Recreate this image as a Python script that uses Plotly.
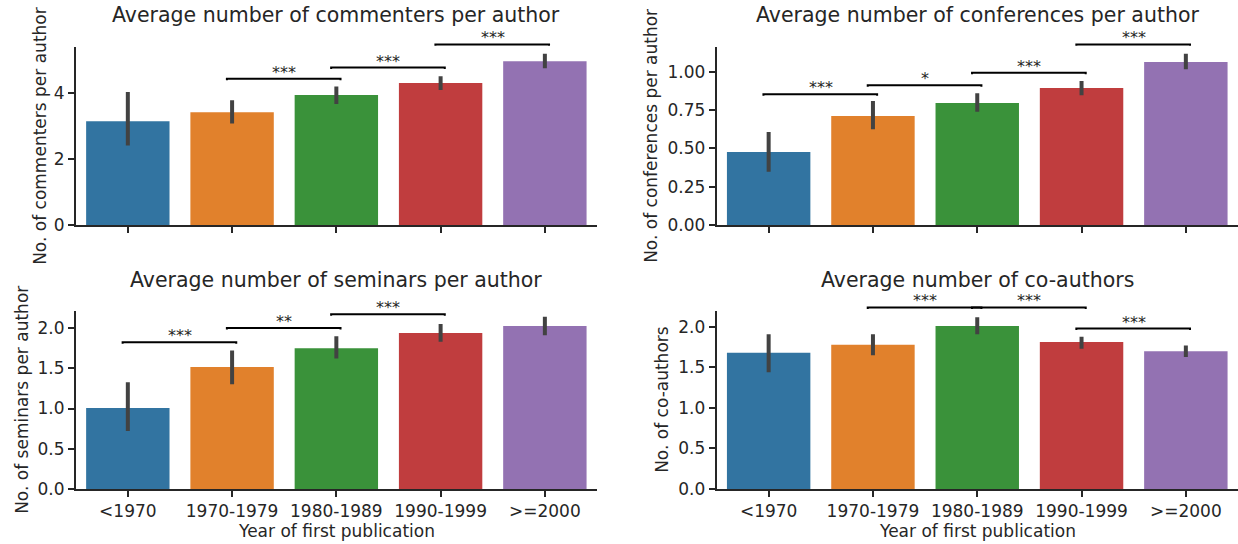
import plotly.graph_objects as go

# ---------------- data ----------------
categories = ["<1970", "1970-1979", "1980-1989", "1990-1999", ">=2000"]
bar_colors = ["#3274a1", "#e1812c", "#3a923a", "#c03d3e", "#9372b2"]

commenters_mean = [3.14, 3.41, 3.93, 4.29, 4.95]
commenters_lo = [2.40, 3.07, 3.66, 4.08, 4.74]
commenters_hi = [4.02, 3.77, 4.19, 4.50, 5.18]
commenters_br_left = [1, 2, 3]
commenters_br_right = [2, 3, 4]
commenters_br_y = [4.42, 4.76, 5.46]
commenters_br_label = ["***", "***", "***"]

conferences_mean = [0.476, 0.711, 0.796, 0.894, 1.063]
conferences_lo = [0.348, 0.624, 0.739, 0.846, 1.016]
conferences_hi = [0.607, 0.809, 0.859, 0.939, 1.117]
conferences_br_left = [0, 1, 2, 3]
conferences_br_right = [1, 2, 3, 4]
conferences_br_y = [0.853, 0.911, 0.993, 1.178]
conferences_br_label = ["***", "*", "***", "***"]

seminars_mean = [1.006, 1.516, 1.75, 1.938, 2.025]
seminars_lo = [0.72, 1.30, 1.62, 1.83, 1.91]
seminars_hi = [1.325, 1.72, 1.897, 2.05, 2.14]
seminars_br_left = [0, 1, 2]
seminars_br_right = [1, 2, 3]
seminars_br_y = [1.822, 2.0, 2.17]
seminars_br_label = ["***", "**", "***"]

coauthors_mean = [1.68, 1.78, 2.01, 1.815, 1.70]
coauthors_lo = [1.44, 1.65, 1.91, 1.73, 1.63]
coauthors_hi = [1.91, 1.91, 2.12, 1.88, 1.77]
coauthors_br_left = [1, 2, 3]
coauthors_br_right = [2, 3, 4]
coauthors_br_y = [2.24, 2.24, 1.98]
coauthors_br_label = ["***", "***", "***"]

titles = ["Average number of commenters per author",
          "Average number of conferences per author",
          "Average number of seminars per author",
          "Average number of co-authors"]
ylabels = ["No. of commenters per author", "No. of conferences per author",
           "No. of seminars per author", "No. of co-authors"]
xlabel = "Year of first publication"

y_tops = [5.39, 1.163, 2.215, 2.2]
y_ticks = [[0, 2, 4], [0, 0.25, 0.5, 0.75, 1.0],
           [0, 0.5, 1.0, 1.5, 2.0], [0, 0.5, 1.0, 1.5, 2.0]]
y_formats = ["d", ".2f", ".1f", ".1f"]

panels = [
    (commenters_mean, commenters_lo, commenters_hi,
     commenters_br_left, commenters_br_right, commenters_br_y, commenters_br_label),
    (conferences_mean, conferences_lo, conferences_hi,
     conferences_br_left, conferences_br_right, conferences_br_y, conferences_br_label),
    (seminars_mean, seminars_lo, seminars_hi,
     seminars_br_left, seminars_br_right, seminars_br_y, seminars_br_label),
    (coauthors_mean, coauthors_lo, coauthors_hi,
     coauthors_br_left, coauthors_br_right, coauthors_br_y, coauthors_br_label),
]

# ---------------- layout geometry (pixels) ----------------
W, H = 1238, 544
col_px = [(75.7, 597.0), (716.5, 1238.0)]
row_px = [(46.7, 225.0), (310.7, 489.0)]
ylabel_x_px = [40, 651, 22, 662]
title_y_px = [15, 279.5]
xlabel_y_px = 531
ext = 1.25  # extension of invisible axes for brackets above the plot area

FONT = "DejaVu Sans"
TXT = "#262626"

fig = go.Figure()
layout = dict(
    template="none",
    width=W, height=H, autosize=False,
    margin=dict(l=0, r=0, t=0, b=0, pad=0, autoexpand=False),
    paper_bgcolor="white", plot_bgcolor="rgba(0,0,0,0)",
    font=dict(family=FONT, color=TXT, size=17),
    showlegend=False, bargap=0.2,
)
annotations = []
idx = list(range(len(categories)))

for k, (mean, lo, hi, bl, brr, by, blab) in enumerate(panels):
    r, c = divmod(k, 2)
    n = k + 1
    xname = "x" if n == 1 else f"x{n}"
    yname = "y" if n == 1 else f"y{n}"
    yext = f"y{n + 4}"
    xd = [col_px[c][0] / W, col_px[c][1] / W]
    yd = [1 - row_px[r][1] / H, 1 - row_px[r][0] / H]

    fig.add_trace(go.Bar(
        x=idx, y=mean, width=0.8, xaxis=xname, yaxis=yname,
        marker=dict(color=bar_colors, line=dict(width=0)),
        error_y=dict(type="data", symmetric=False,
                     array=[h - m for h, m in zip(hi, mean)],
                     arrayminus=[m - l for m, l in zip(mean, lo)],
                     color="#424242", thickness=4, width=0),
        hoverinfo="skip",
    ))

    # significance brackets on the extended invisible axis
    tick_h = y_tops[k] * 0.008
    bx, byy = [], []
    for a, b, yv, lab in zip(bl, brr, by, blab):
        bx += [a - 0.05, a - 0.05, b + 0.04, b + 0.04, None]
        byy += [yv - tick_h, yv, yv, yv - tick_h, None]
        annotations.append(dict(
            text=lab, x=(a + b) / 2, y=yv, xref=xname, yref=yext,
            xanchor="center", yanchor="middle", yshift=6.5, showarrow=False,
            font=dict(size=16, family=FONT, color=TXT)))
    fig.add_trace(go.Scatter(
        x=bx, y=byy, mode="lines", xaxis=xname, yaxis=yext,
        line=dict(color="black", width=2), hoverinfo="skip", cliponaxis=False,
    ))

    axis_style = dict(
        showline=True, linecolor=TXT, linewidth=1.5,
        ticks="outside", ticklen=6, tickwidth=1.5, tickcolor=TXT,
        showgrid=False, zeroline=False, fixedrange=True, automargin=False,
        tickfont=dict(size=17, family=FONT, color=TXT),
    )
    layout["xaxis" if n == 1 else f"xaxis{n}"] = dict(
        domain=xd, range=[-0.5, len(categories) - 0.5], anchor=yname,
        tickmode="array", tickvals=idx, ticktext=categories,
        showticklabels=(r == 1), **axis_style)
    layout["yaxis" if n == 1 else f"yaxis{n}"] = dict(
        domain=yd, range=[0, y_tops[k]], anchor=xname,
        tickmode="array", tickvals=y_ticks[k], tickformat=y_formats[k],
        **axis_style)
    layout[f"yaxis{n + 4}"] = dict(
        domain=[yd[0], yd[0] + (yd[1] - yd[0]) * ext],
        range=[0, y_tops[k] * ext], anchor=xname, visible=False,
        fixedrange=True, automargin=False, showgrid=False, zeroline=False)

    cx = (xd[0] + xd[1]) / 2
    annotations.append(dict(
        text=titles[k], x=cx, y=1 - title_y_px[r] / H, xref="paper", yref="paper",
        xanchor="center", yanchor="middle", showarrow=False,
        font=dict(size=20.5, family=FONT, color=TXT)))
    annotations.append(dict(
        text=ylabels[k], x=ylabel_x_px[k] / W, y=(yd[0] + yd[1]) / 2,
        xref="paper", yref="paper", xanchor="center", yanchor="middle",
        textangle=-90, showarrow=False,
        font=dict(size=17, family=FONT, color=TXT)))
    if r == 1:
        annotations.append(dict(
            text=xlabel, x=cx, y=1 - xlabel_y_px / H, xref="paper", yref="paper",
            xanchor="center", yanchor="middle", showarrow=False,
            font=dict(size=17, family=FONT, color=TXT)))

layout["annotations"] = annotations
fig.update_layout(**layout)
fig.write_html("out.html")
